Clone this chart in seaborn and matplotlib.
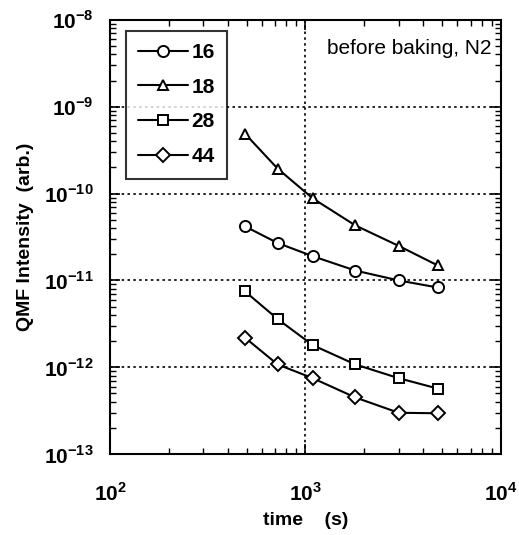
import numpy as np
import pandas as pd
import matplotlib
matplotlib.use("Agg")
import matplotlib.pyplot as plt
import seaborn as sns
from matplotlib.ticker import LogLocator, FixedLocator, NullFormatter

# ---- data ----
time_s = [490, 720, 1090, 1800, 3000, 4750]
mass_16 = [4.2e-11, 2.7e-11, 1.9e-11, 1.3e-11, 1.0e-11, 8.3e-12]
mass_18 = [4.9e-10, 1.94e-10, 8.8e-11, 4.3e-11, 2.5e-11, 1.49e-11]
mass_28 = [7.5e-12, 3.6e-12, 1.8e-12, 1.08e-12, 7.5e-13, 5.7e-13]
mass_44 = [2.2e-12, 1.08e-12, 7.5e-13, 4.5e-13, 3.0e-13, 2.96e-13]
series_names = ["16", "18", "28", "44"]
x_ticks = [1e2, 1e3, 1e4]
x_tick_labels = ["2", "3", "4"]
y_ticks = [1e-13, 1e-12, 1e-11, 1e-10, 1e-9, 1e-8]
y_tick_labels = ["-13", "-12", "-11", "-10", "-9", "-8"]

df = pd.concat([
    pd.DataFrame({"time": time_s, "value": vals, "mass": name})
    for name, vals in zip(series_names, [mass_16, mass_18, mass_28, mass_44])
], ignore_index=True)

sns.set_style("ticks")
plt.rcParams["font.family"] = ["Liberation Sans", "DejaVu Sans"]
plt.rcParams["mathtext.fontset"] = "custom"
plt.rcParams["mathtext.rm"] = "Liberation Sans:bold"
plt.rcParams["mathtext.bf"] = "Liberation Sans:bold"
plt.rcParams["text.color"] = "black"
plt.rcParams["axes.labelcolor"] = "black"
plt.rcParams["xtick.color"] = "black"
plt.rcParams["ytick.color"] = "black"
plt.rcParams["xtick.labelcolor"] = "black"
plt.rcParams["ytick.labelcolor"] = "black"

fig = plt.figure(figsize=(5.19, 5.35), dpi=100)
ax = fig.add_axes([0.212, 0.151, 0.753, 0.812])

markers = {"16": "o", "18": "^", "28": "s", "44": "D"}
sizes = {"16": 8, "18": 7, "28": 7.5, "44": 7}
for name in series_names:
    sub = df[df["mass"] == name]
    sns.lineplot(data=sub, x="time", y="value", ax=ax, color="black",
                 marker=markers[name], markersize=sizes[name],
                 markerfacecolor="white", markeredgecolor="black",
                 markeredgewidth=1.4, linewidth=1.5, label=name)

ax.set_xscale("log")
ax.set_yscale("log")
ax.set_xlim(1e2, 1e4)
ax.set_ylim(1e-13, 1e-8)

ax.xaxis.set_major_locator(FixedLocator(x_ticks))
ax.set_xticklabels([r"$10^{%s}$" % s for s in x_tick_labels])
ax.yaxis.set_major_locator(FixedLocator(y_ticks))
ax.set_yticklabels([r"$10^{%s}$" % s for s in y_tick_labels])
ax.xaxis.set_minor_locator(LogLocator(base=10, subs=np.arange(2, 10)))
ax.yaxis.set_minor_locator(LogLocator(base=10, subs=np.arange(2, 10)))
ax.xaxis.set_minor_formatter(NullFormatter())
ax.yaxis.set_minor_formatter(NullFormatter())

ax.tick_params(which="both", direction="in", top=True, right=True, color="black")
ax.tick_params(which="major", length=7, width=1.2, labelsize=15)
ax.tick_params(axis="x", which="major", pad=20)
ax.tick_params(axis="y", which="major", pad=12)
ax.tick_params(which="minor", length=4, width=1.0)
for sp in ax.spines.values():
    sp.set_linewidth(1.5)
    sp.set_color("black")

for yv in y_ticks[1:-1]:
    ax.axhline(yv, color="black", linestyle=(0, (1.5, 2)), linewidth=1.2, zorder=0)
ax.axvline(1e3, color="black", linestyle=(0, (1.5, 2)), linewidth=1.2, zorder=0)

ax.set_xlabel("time    (s)", fontsize=14, fontweight="bold", labelpad=5)
ax.set_ylabel("QMF Intensity  (arb.)", fontsize=14, fontweight="bold", labelpad=7)

ax.text(0.975, 0.955, "before baking, N2", transform=ax.transAxes,
        ha="right", va="top", fontsize=15)

leg = ax.legend(loc="upper left", bbox_to_anchor=(0.04, 0.975), frameon=True,
                fancybox=False, edgecolor="black", fontsize=15, handlelength=2.4,
                labelspacing=0.75, handletextpad=0.15, borderpad=0.6,
                borderaxespad=0.0)
leg.get_frame().set_linewidth(1.5)
for t in leg.get_texts():
    t.set_fontweight("bold")
    t.set_color("black")

fig.savefig("out.png", dpi=100)
